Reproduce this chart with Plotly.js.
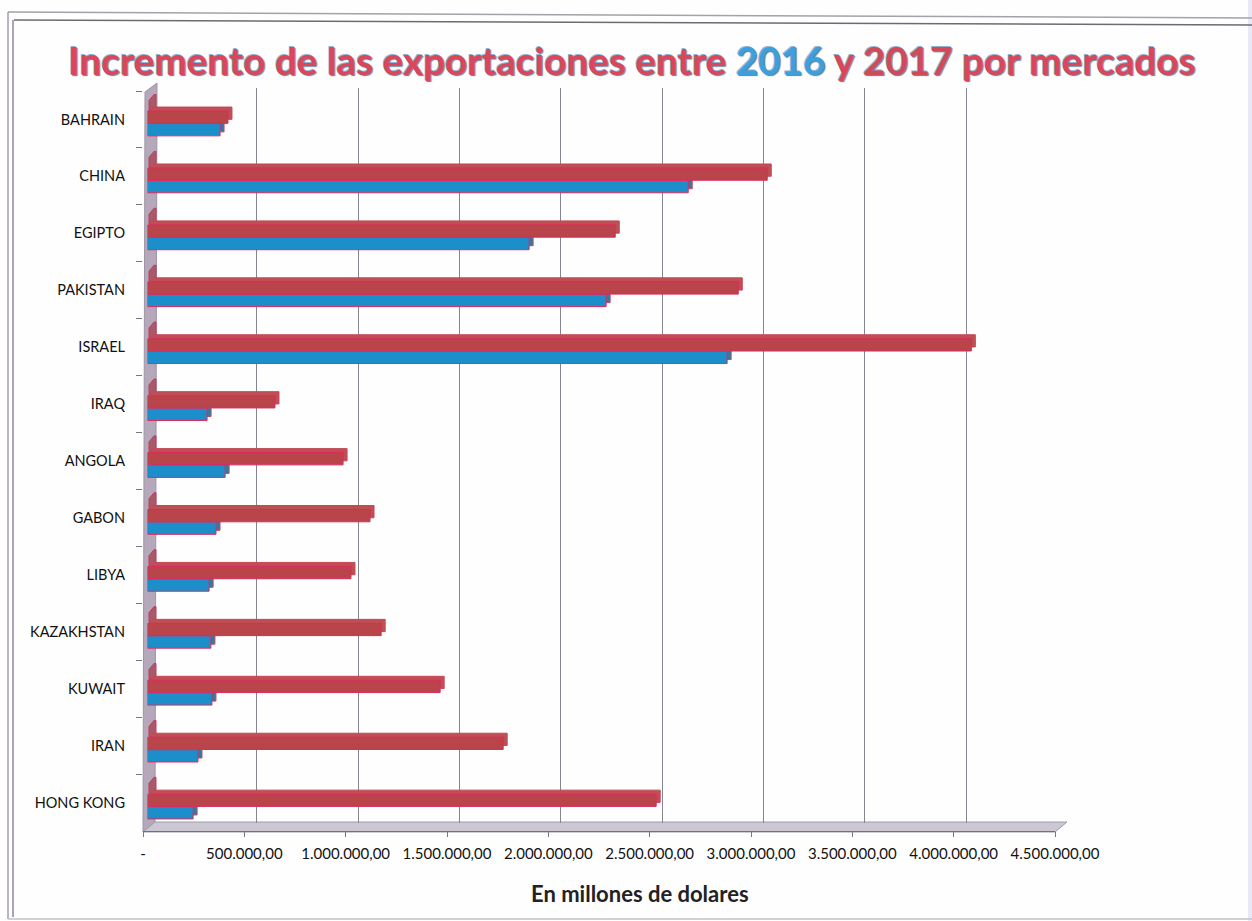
<!DOCTYPE html>
<html>
<head>
<meta charset="utf-8">
<script src="https://cdn.plot.ly/plotly-3.0.1.min.js"></script>
<style>html,body{margin:0;padding:0;background:#fff}#chart{width:1252px;height:921px}</style>
</head>
<body>
<div id="chart"></div>
<script>
var categories = ["BAHRAIN","CHINA","EGIPTO","PAKISTAN","ISRAEL","IRAQ","ANGOLA","GABON","LIBYA","KAZAKHSTAN","KUWAIT","IRAN","HONG KONG"];
var exports2017 = [397000,3058000,2308000,2915000,4065000,629000,965000,1098000,1004000,1153000,1444000,1755000,2510000];
var exports2016 = [358000,2668000,1883000,2263000,2860000,294000,383000,338000,304000,313000,318000,249000,225000];
var tickValues = [0,500000,1000000,1500000,2000000,2500000,3000000,3500000,4000000,4500000];
var tickLabels = ["-","500.000,00","1.000.000,00","1.500.000,00","2.000.000,00","2.500.000,00","3.000.000,00","3.500.000,00","4.000.000,00","4.500.000,00"];
var gridValues = [500000,1000000,1500000,2000000,2500000,3000000,3500000,4000000,4500000];
var xMax = 4500000;

var W = 1252, H = 921;
function px(x){return x/W;}
function py(y){return 1-y/H;}
function xdom(a){return [px(a),px(a+912)];}
function ydom(top,bot){return [py(bot),py(top)];}
function poly(pts){return 'M '+pts.map(function(p){return px(p[0]).toFixed(5)+','+py(p[1]).toFixed(5);}).join(' L ')+' Z';}

var FONT = 'Lato, Carlito, Calibri, sans-serif';
var catRange = [12.5,-0.5];

var traces = [
  {type:'scatter',mode:'none',x:categories.map(function(){return null;}),y:categories,xaxis:'x',yaxis:'y',showlegend:false,hoverinfo:'skip'},
  {type:'scatter',mode:'none',x:categories.map(function(){return null;}),y:categories,xaxis:'x2',yaxis:'y2',showlegend:false,hoverinfo:'skip'},
  {type:'bar',orientation:'h',name:'2017 fondo',x:exports2017,y:categories,xaxis:'x3',yaxis:'y3',marker:{color:'#bf4f52',line:{color:'#c4485a',width:1}},showlegend:false,hoverinfo:'skip'},
  {type:'bar',orientation:'h',name:'2016 fondo',x:exports2016,y:categories,xaxis:'x3',yaxis:'y3',marker:{color:'#2a7ea6',line:{color:'#c4485a',width:1}},showlegend:false,hoverinfo:'skip'},
  {type:'bar',orientation:'h',name:'2017',x:exports2017,y:categories,xaxis:'x4',yaxis:'y4',marker:{color:'#b9444a',line:{color:'#d92c5e',width:1}},showlegend:false},
  {type:'bar',orientation:'h',name:'2016',x:exports2016,y:categories,xaxis:'x4',yaxis:'y4',marker:{color:'#1c8fcb',line:{color:'#e02a60',width:1}},showlegend:false}
];

function hiddenX(a,anchor){return {domain:xdom(a),range:[0,xMax],anchor:anchor,showticklabels:false,ticks:'',showgrid:false,zeroline:false,showline:false,fixedrange:true};}
function hiddenY(top,bot,anchor){return {domain:ydom(top,bot),type:'category',categoryarray:categories,categoryorder:'array',range:catRange,anchor:anchor,showticklabels:false,ticks:'',showgrid:false,zeroline:false,showline:false,fixedrange:true};}

var xLabels = hiddenX(143,'y');
xLabels.tickmode='array'; xLabels.tickvals=tickValues; xLabels.ticktext=tickLabels;
xLabels.showticklabels=true; xLabels.ticks='outside'; xLabels.ticklen=5; xLabels.tickcolor='#77778a'; xLabels.tickwidth=1;
xLabels.showline=true; xLabels.linecolor='#6f6f80'; xLabels.linewidth=1; xLabels.ticklabelstandoff=4;
xLabels.tickfont={family:FONT,size:15,color:'#111111'};

var yLabels = hiddenY(91,831,'x');
yLabels.showticklabels=true; yLabels.ticks='outside'; yLabels.ticklen=6; yLabels.tickcolor='#77778a'; yLabels.tickwidth=1;
yLabels.tickson='boundaries'; yLabels.ticklabelstandoff=17;
yLabels.tickfont={family:FONT,size:14.5,color:'#111111'};

var xGrid = hiddenX(155.5,'y2');
xGrid.tickmode='array'; xGrid.tickvals=gridValues; xGrid.showgrid=true; xGrid.gridcolor='#85858f'; xGrid.gridwidth=1;

var frame = {type:'path',xref:'paper',yref:'paper',line:{color:'#8a8492',width:1.5},layer:'below'};
function ln(a,b,c){return Object.assign({},frame,{path:'M '+px(a[0])+','+py(a[1])+' L '+px(b[0])+','+py(b[1]),line:{color:c||'#8a8492',width:1.5}});}

var shapes = [
  {type:'rect',xref:'paper',yref:'paper',x0:px(1248),x1:1,y0:0,y1:1,fillcolor:'#e9e8f6',line:{width:0},layer:'below'},
  ln([8,12],[1252,18],'#a5a1a8'),
  ln([14,20],[1252,25],'#6e6a72'),
  ln([8,12],[8,919],'#a69bb0'),
  ln([13,20],[13,917],'#8f86a0'),
  ln([8,919],[1252,919],'#c4c2ca'),
  {type:'path',xref:'paper',yref:'paper',path:poly([[145,92],[157,83],[155,822],[143,832]]),fillcolor:'#b4a8ba',line:{color:'#9f94a6',width:1},layer:'below'},
  {type:'path',xref:'paper',yref:'paper',path:poly([[143,832],[155,822],[1067,822],[1055,832]]),fillcolor:'#cbc8d4',line:{color:'#9f9dac',width:1},layer:'below'}
];
categories.forEach(function(c,i){
  var cy = 119.5+i*56.9;
  shapes.push({type:'path',xref:'paper',yref:'paper',path:poly([[149,cy-9],[149,cy-19],[154,cy-25],[156,cy-25],[156,cy-9]]),fillcolor:'#a85a68',line:{color:'#c23a5e',width:1},layer:'below'});
});

var layout = {
  width:W,height:H,
  margin:{l:0,r:0,t:0,b:0,pad:0},
  paper_bgcolor:'#fefeff',plot_bgcolor:'rgba(0,0,0,0)',
  barmode:'group',bargap:0.56,bargroupgap:0.02,
  showlegend:false,
  title:{
    text:'Incremento de las exportaciones entre <span style="color:#3d9fdc">2016</span> y <span style="color:#d24a58">2017</span> por mercados',
    x:632/W,xanchor:'center',xref:'paper',y:py(61),yanchor:'middle',yref:'container',
    font:{family:FONT,size:38.7,weight:700,color:'#dc4658',shadow:'1px 1px 1px #5f7f9f, -1px -1px 0px #8fb3d6'}
  },
  xaxis:xLabels,yaxis:yLabels,
  xaxis2:xGrid,yaxis2:hiddenY(88,823,'x2'),
  xaxis3:hiddenX(151.5,'y3'),yaxis3:hiddenY(91,831,'x3'),
  xaxis4:hiddenX(147.5,'y4'),yaxis4:hiddenY(95,835,'x4'),
  shapes:shapes,
  annotations:[{xref:'paper',yref:'paper',x:640/W,y:py(893),xanchor:'center',yanchor:'middle',showarrow:false,
    text:'<b>En millones de dolares</b>',font:{family:FONT,size:22,color:'#222'}}]
};
Plotly.newPlot('chart',traces,layout,{displayModeBar:false,responsive:false});
</script>
</body>
</html>
